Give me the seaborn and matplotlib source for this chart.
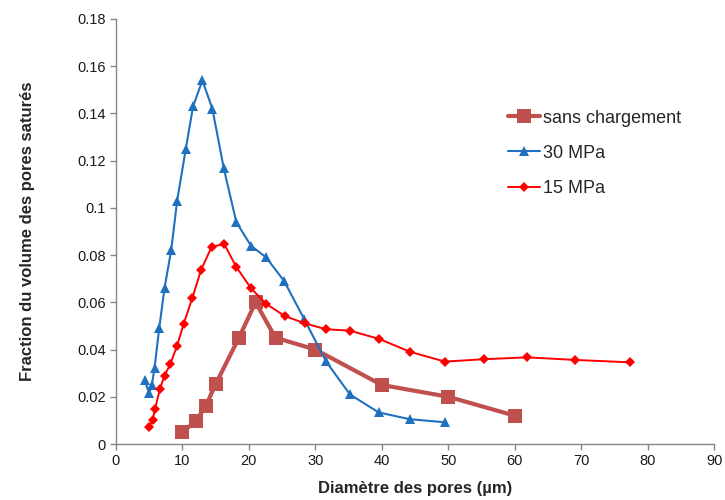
import numpy as np
import pandas as pd
import matplotlib
matplotlib.use("Agg")
import matplotlib.pyplot as plt
from matplotlib.ticker import FuncFormatter, MultipleLocator
import seaborn as sns

# === Data ===
labels = ["sans chargement", "30 MPa", "15 MPa"]

x_sans = [10, 12, 13.5, 15, 18.5, 21, 24, 30, 40, 50, 60]
y_sans = [0.005, 0.0097, 0.016, 0.0254, 0.045, 0.060, 0.045, 0.040, 0.025, 0.020, 0.012]

x_30 = [4.3, 5.0, 5.4, 5.8, 6.5, 7.3, 8.3, 9.2, 10.5, 11.6, 13.0, 14.5, 16.2,
        18.1, 20.3, 22.6, 25.3, 28.3, 31.6, 35.2, 39.5, 44.2, 49.5]
y_30 = [0.027, 0.0215, 0.025, 0.0323, 0.049, 0.066, 0.082, 0.103, 0.125, 0.143,
        0.154, 0.142, 0.117, 0.094, 0.084, 0.079, 0.069, 0.053, 0.035, 0.021,
        0.0134, 0.0105, 0.0092]

x_15 = [5.0, 5.5, 5.9, 6.6, 7.3, 8.2, 9.2, 10.2, 11.5, 12.8, 14.4, 16.3, 18.1,
        20.3, 22.6, 25.4, 28.4, 31.6, 35.2, 39.6, 44.3, 49.5, 55.3, 61.9, 69.1, 77.3]
y_15 = [0.0073, 0.0102, 0.015, 0.0233, 0.029, 0.034, 0.0417, 0.051, 0.062, 0.0737,
        0.0836, 0.0846, 0.075, 0.066, 0.0593, 0.0542, 0.0511, 0.0486, 0.048, 0.0445,
        0.039, 0.0349, 0.0359, 0.0367, 0.0356, 0.0346]

# === Style ===
sns.set_style("white")
plt.rcParams["font.family"] = ["Liberation Sans", "DejaVu Sans"]

fig, ax = plt.subplots(figsize=(7.25, 5), dpi=100)
fig.subplots_adjust(left=0.16, right=0.985, bottom=0.112, top=0.962)

series = [
    (x_sans, y_sans, labels[0], "#C0504D", "s", 10, 3.0),
    (x_30, y_30, labels[1], "#1F70BF", "^", 7, 1.5),
    (x_15, y_15, labels[2], "#FF0000", "D", 5, 1.4),
]
for xs, ys, lab, col, mk, ms, lw in series:
    sns.lineplot(x=xs, y=ys, ax=ax, label=lab, color=col, marker=mk,
                 markersize=ms, linewidth=lw, markeredgewidth=0,
                 sort=False, estimator=None)

ax.set_xlim(0, 90)
ax.set_ylim(0, 0.18)
ax.xaxis.set_major_locator(MultipleLocator(10))
ax.yaxis.set_major_locator(MultipleLocator(0.02))
ax.yaxis.set_major_formatter(FuncFormatter(lambda v, p: f"{round(v, 4):g}"))

for s in ["top", "right"]:
    ax.spines[s].set_visible(False)
for s in ["left", "bottom"]:
    ax.spines[s].set_color("#868686")
    ax.spines[s].set_linewidth(1.0)
ax.tick_params(axis="both", direction="out", length=4, width=1,
               color="#868686", labelsize=10.5, labelcolor="#1a1a1a")
ax.tick_params(axis="both", left=True, bottom=True)

ax.set_xlabel("Diamètre des pores (µm)", fontsize=12, fontweight="bold", labelpad=9)
ax.set_ylabel("Fraction du volume des pores saturés", fontsize=12, fontweight="bold", labelpad=30)

ax.legend(loc="center left", bbox_to_anchor=(0.628, 0.684), frameon=False,
          fontsize=13, handlelength=1.8, handletextpad=0.15, labelspacing=1.0)

plt.savefig("out.png", dpi=100)
plt.close()
